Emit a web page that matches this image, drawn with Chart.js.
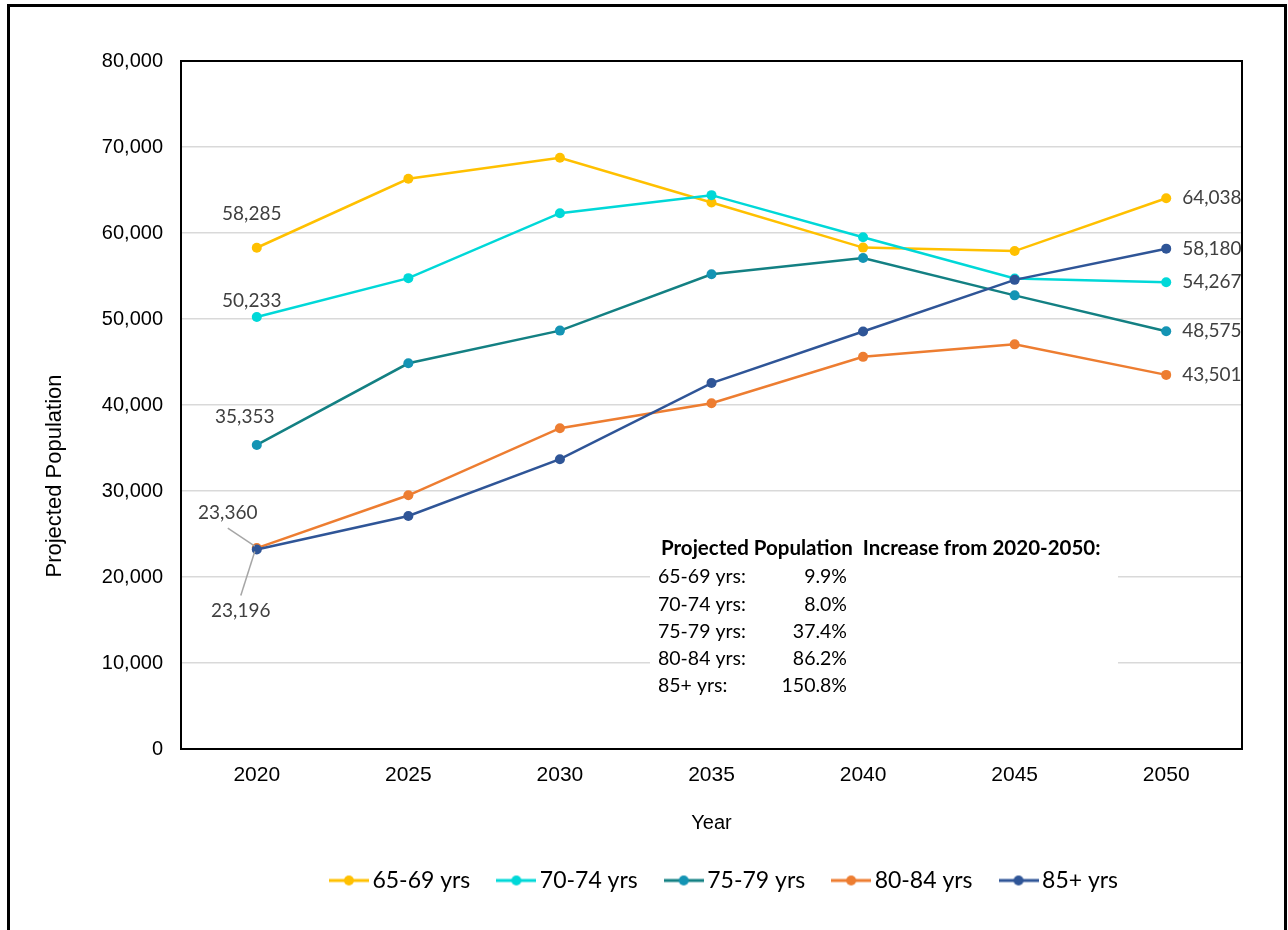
<!DOCTYPE html>
<html>
<head>
<meta charset="utf-8">
<script src="https://cdn.jsdelivr.net/npm/chart.js@4.4.1/dist/chart.umd.min.js"></script>
<style>
  html, body { margin:0; padding:0; background:#fff; overflow:hidden; }
  #frame { position:absolute; left:7px; top:4px; width:1274px; height:1000px; border:3px solid #000; }
  #wrap { position:absolute; left:0; top:0; width:1288px; height:930px; }
</style>
</head>
<body>
<div id="frame"></div>
<div id="wrap"><canvas id="myChart"></canvas></div>
<script>
// data
const years = ["2020", "2025", "2030", "2035", "2040", "2045", "2050"];
const seriesNames = ["65-69 yrs", "70-74 yrs", "75-79 yrs", "80-84 yrs", "85+ yrs"];
const pop6569 = [58285, 66300, 68750, 63550, 58300, 57900, 64038];
const pop7074 = [50233, 54750, 62300, 64400, 59500, 54700, 54267];
const pop7579 = [35353, 44850, 48650, 55200, 57100, 52750, 48575];
const pop8084 = [23360, 29500, 37300, 40200, 45600, 47050, 43501];
const pop85up = [23196, 27100, 33700, 42550, 48550, 54550, 58180];
const yMin = 0, yMax = 80000, yStep = 10000;

const lineColors  = ["#FFC000", "#00D8D8", "#138083", "#ED7D31", "#2F5597"];
const pointColors = ["#FFC000", "#00D8D8", "#1494B4", "#ED7D31", "#2F5597"];
const allSeries = [pop6569, pop7074, pop7579, pop8084, pop85up];

// where the 2020 labels sit, relative to their point
const firstLabelPos = [
    {dx: -5,  dy: -34},
    {dx: -5,  dy: -16},
    {dx: -12, dy: -28},
    {dx: -29, dy: -35, leader: 1},
    {dx: -16, dy: 61,  leader: -1}
];

const labelFont = "19px Lato";
const axisFont = "Liberation Sans";

function fmt(v){ return v.toLocaleString("en-US"); }

function legendIcon(i){
    let c = document.createElement("canvas");
    c.width = 40; c.height = 14;
    let g = c.getContext("2d");
    g.strokeStyle = lineColors[i];
    g.lineWidth = 3;
    g.beginPath(); g.moveTo(0, 7); g.lineTo(40, 7); g.stroke();
    g.fillStyle = pointColors[i];
    g.beginPath(); g.arc(20, 7, 5, 0, Math.PI * 2); g.fill();
    return c;
}

const plotFrame = {
    id: "plotFrame",
    afterLayout(chart){
        // nudge legend right, the original sits a bit off centre
        chart.legend.left += 16;
        chart.legend.right += 16;
    },
    beforeDatasetsDraw(chart){
        // white box behind the note so gridlines break there
        const {ctx, chartArea} = chart;
        ctx.save();
        ctx.fillStyle = "#fff";
        ctx.fillRect(chartArea.left + 469, chartArea.top + 471, 468, 168);
        ctx.restore();
    },
    afterDraw(chart){
        const {ctx, chartArea} = chart;
        ctx.save();
        ctx.strokeStyle = "#000";
        ctx.lineWidth = 2;
        ctx.strokeRect(chartArea.left, chartArea.top, chartArea.right - chartArea.left, chartArea.bottom - chartArea.top);

        // y axis title
        ctx.translate(55, 476);
        ctx.rotate(-Math.PI / 2);
        ctx.fillStyle = "#000";
        ctx.font = "22px " + axisFont;
        ctx.textAlign = "center";
        ctx.textBaseline = "middle";
        ctx.fillText("Projected Population", 0, 0);
        ctx.restore();
    }
};

const valueLabels = {
    id: "valueLabels",
    afterDatasetsDraw(chart){
        const {ctx, chartArea} = chart;
        ctx.save();
        ctx.font = labelFont;
        ctx.fillStyle = "#404040";
        ctx.textBaseline = "middle";
        chart.data.datasets.forEach((ds, i) => {
            const pts = chart.getDatasetMeta(i).data;
            const p0 = pts[0], pn = pts[pts.length - 1];
            const pos = firstLabelPos[i];
            const lx = p0.x + pos.dx, ly = p0.y + pos.dy;
            ctx.textAlign = "center";
            ctx.fillText(fmt(ds.data[0]), lx, ly);
            if (pos.leader){
                ctx.strokeStyle = "#A6A6A6";
                ctx.lineWidth = 1.5;
                ctx.beginPath();
                ctx.moveTo(lx, ly + pos.leader * 15);
                ctx.lineTo(p0.x - 2, p0.y - pos.leader * 2);
                ctx.stroke();
            }
            ctx.textAlign = "left";
            ctx.fillText(fmt(ds.data[ds.data.length - 1]), pn.x + 16, pn.y);
        });

        // increase note
        const nx = chartArea.left + 477, ny = chartArea.top + 487;
        ctx.fillStyle = "#000";
        ctx.font = "bold 20.5px Lato";
        ctx.textAlign = "left";
        ctx.fillText("Projected Population  Increase from 2020-2050:", nx + 3, ny);
        ctx.font = "19.5px Lato";
        allSeries.forEach((s, i) => {
            const pct = ((s[s.length - 1] - s[0]) / s[0] * 100).toFixed(1) + "%";
            const ry = ny + 29 + i * 27.3;
            ctx.textAlign = "left";
            ctx.fillText(seriesNames[i] + ":", nx, ry);
            ctx.textAlign = "right";
            ctx.fillText(pct, nx + 189, ry);
        });
        ctx.restore();
    }
};

new Chart("myChart", {
    type: "line",
    data: {
        labels: years,
        datasets: allSeries.map((s, i) => ({
            label: seriesNames[i],
            data: s,
            borderColor: lineColors[i],
            backgroundColor: pointColors[i],
            pointBackgroundColor: pointColors[i],
            pointBorderWidth: 0,
            pointRadius: 5,
            borderWidth: 2.5,
            fill: false,
            order: 5 - i
        }))
    },
    options: {
        responsive: true,
        maintainAspectRatio: false,
        animation: false,
        events: [],
        layout: { padding: { left: 0, top: 61, right: 46, bottom: 28 } },
        scales: {
            x: {
                offset: true,
                grid: { display: false, drawTicks: false },
                border: { display: false },
                ticks: { font: { family: axisFont, size: 21 }, color: "#000", padding: 14 },
                title: { display: true, text: "Year", font: { family: axisFont, size: 20 }, color: "#000", padding: { top: 0, bottom: 0 } },
                afterFit(s){ s.height = 86; }
            },
            y: {
                min: yMin,
                max: yMax,
                grid: { color: "#D9D9D9", lineWidth: 1.5, drawTicks: false },
                border: { display: false },
                ticks: { stepSize: yStep, callback: v => fmt(v), font: { family: axisFont, size: 20 }, color: "#000", padding: 18 },
                afterFit(s){ s.width = 181; }
            }
        },
        plugins: {
            tooltip: { enabled: false },
            legend: {
                position: "bottom",
                fullSize: false,
                labels: {
                    usePointStyle: true,
                    pointStyleWidth: 24,
                    padding: 34,
                    color: "#000",
                    font: { family: "Lato", size: 23 },
                    sort: (a, b) => a.datasetIndex - b.datasetIndex,
                    generateLabels(chart){
                        let items = Chart.defaults.plugins.legend.labels.generateLabels(chart);
                        items.forEach(it => { it.pointStyle = legendIcon(it.datasetIndex); });
                        return items;
                    }
                }
            }
        }
    },
    plugins: [plotFrame, valueLabels]
});
</script>
</body>
</html>
